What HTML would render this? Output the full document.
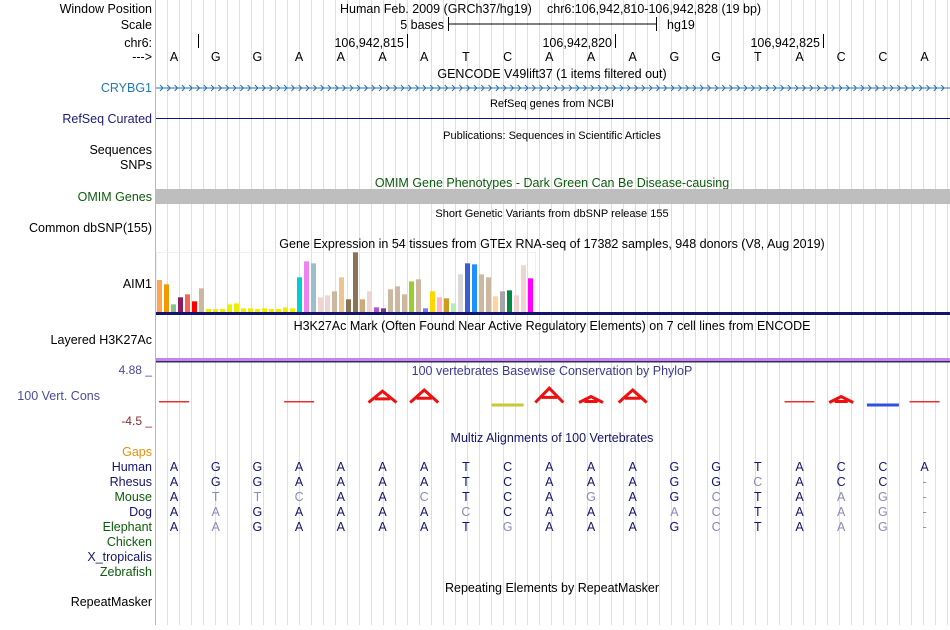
<!DOCTYPE html>
<html><head><meta charset="utf-8">
<style>
body{margin:0;background:#fff;width:950px;height:625px;overflow:hidden;font-family:"Liberation Sans",sans-serif;}
svg text{font-family:"Liberation Sans",sans-serif;}
</style></head>
<body>
<svg id="main" width="950" height="625" xmlns="http://www.w3.org/2000/svg">
<g id="grid"></g>
<line x1="155.5" y1="0" x2="155.5" y2="625" stroke="#f4a0a0"/>
<g font-size="12.5" text-anchor="end">
<text x="152" y="13">Window Position</text>
<text x="152" y="29">Scale</text>
<text x="152" y="47">chr6:</text>
<text x="152" y="61">---&gt;</text>
<text x="152" y="92" fill="#1f78b4">CRYBG1</text>
<text x="152" y="123" fill="#1a1a80">RefSeq Curated</text>
<text x="152" y="154">Sequences</text>
<text x="152" y="169">SNPs</text>
<text x="152" y="201" fill="#0b5c0b">OMIM Genes</text>
<text x="152" y="232">Common dbSNP(155)</text>
<text x="152" y="288">AIM1</text>
<text x="152" y="344">Layered H3K27Ac</text>
<text x="100" y="400" fill="#4a4aa0">100 Vert. Cons</text>
<text x="152" y="374" fill="#4a4aa0" font-size="12">4.88 _</text>
<text x="152" y="425" fill="#8b2a2a" font-size="12">-4.5 _</text>
<text x="152" y="456" fill="#e8900a">Gaps</text>
<text x="152" y="471" fill="#14146e">Human</text>
<text x="152" y="486" fill="#14146e">Rhesus</text>
<text x="152" y="501" fill="#0b5c0b">Mouse</text>
<text x="152" y="516" fill="#14146e">Dog</text>
<text x="152" y="531" fill="#0b5c0b">Elephant</text>
<text x="152" y="546" fill="#0b5c0b">Chicken</text>
<text x="152" y="561" fill="#14146e">X_tropicalis</text>
<text x="152" y="576" fill="#0b5c0b">Zebrafish</text>
<text x="152" y="606">RepeatMasker</text>
</g>
<g font-size="12.5">
<text x="340" y="13">Human Feb. 2009 (GRCh37/hg19)</text>
<text x="547" y="13">chr6:106,942,810-106,942,828 (19 bp)</text>
<text x="444" y="29" text-anchor="end">5 bases</text>
<line x1="448" y1="24" x2="656" y2="24" stroke="#000"/>
<line x1="448.5" y1="17" x2="448.5" y2="31" stroke="#000"/>
<line x1="656.5" y1="17" x2="656.5" y2="31" stroke="#000"/>
<text x="667" y="29">hg19</text>
<line x1="198.5" y1="34" x2="198.5" y2="48" stroke="#000"/>
<line x1="407.5" y1="34" x2="407.5" y2="48" stroke="#000"/>
<text x="404" y="47" text-anchor="end">106,942,815</text>
<line x1="615.5" y1="34" x2="615.5" y2="48" stroke="#000"/>
<text x="612" y="47" text-anchor="end">106,942,820</text>
<line x1="823.5" y1="34" x2="823.5" y2="48" stroke="#000"/>
<text x="820" y="47" text-anchor="end">106,942,825</text>
</g>
<g font-size="12.5" text-anchor="middle">
<text x="552" y="78">GENCODE V49lift37 (1 items filtered out)</text>
<text x="552" y="107" font-size="11">RefSeq genes from NCBI</text>
<text x="552" y="139" font-size="11">Publications: Sequences in Scientific Articles</text>
<text x="552" y="187" fill="#0b5c0b">OMIM Gene Phenotypes - Dark Green Can Be Disease-causing</text>
<text x="552" y="217" font-size="11">Short Genetic Variants from dbSNP release 155</text>
<text x="552" y="248">Gene Expression in 54 tissues from GTEx RNA-seq of 17382 samples, 948 donors (V8, Aug 2019)</text>
<text x="552" y="330">H3K27Ac Mark (Often Found Near Active Regulatory Elements) on 7 cell lines from ENCODE</text>
<text x="552" y="375" fill="#3a3a90">100 vertebrates Basewise Conservation by PhyloP</text>
<text x="552" y="442" fill="#14146e">Multiz Alignments of 100 Vertebrates</text>
<text x="552" y="592">Repeating Elements by RepeatMasker</text>
</g>
<line x1="156" y1="88" x2="950" y2="88" stroke="#2a70b0"/>
<g id="chev" stroke="#2a70b0" fill="none"></g>
<line x1="156" y1="118.5" x2="950" y2="118.5" stroke="#14147a"/>
<rect x="156" y="189" width="794" height="15" fill="#bebebe"/>
<rect x="156.5" y="252.5" width="379" height="60" fill="none" stroke="#f0f0f0"/>
<g id="gtex"></g>
<rect x="156" y="312" width="794" height="3" fill="#14146e"/>
<rect x="156" y="358" width="794" height="3" fill="#c683f0"/>
<rect x="156" y="361" width="794" height="1.5" fill="#303050"/>
<g id="cons"></g>
<g id="bases" font-size="12.5" text-anchor="middle"></g>
<g id="maf" font-size="12.5" text-anchor="middle"></g>
</svg>
<script>
const gtexValues=[96,83,23,44,53,32,71,9,9,9,23,26,11,11,9,11,9,9,14,11,104,152,146,44,50,62,104,38,179,38,62,14,11,68,77,53,92,98,11,62,44,41,26,113,146,143,113,104,47,62,65,50,140,101];
const gtexColors=["#FFA54F","#EE9A00","#8FBC8F","#8B1C62","#EE6A50","#FF0000","#CDB79E","#EEEE00","#EEEE00","#EEEE00","#EEEE00","#EEEE00","#EEEE00","#EEEE00","#EEEE00","#EEEE00","#EEEE00","#EEEE00","#EEEE00","#EEEE00","#00CED1","#EE82EE","#9AC0CD","#EED5D2","#EED5D2","#CDB79E","#EEC591","#8B7355","#8B7355","#CDAA7D","#EED5D2","#B452CD","#7A378B","#CDB79E","#CDB79E","#CDB79E","#9ACD32","#CDB79E","#7777FF","#FFD700","#FFB6C1","#CD9B1D","#B4EEB4","#D9D9D9","#3A5FCD","#1E90FF","#CDB79E","#CDB79E","#FFD39B","#A6A6A6","#008B45","#EED5D2","#EED5D2","#FF00FF"];
const refBases=["A","G","G","A","A","A","A","T","C","A","A","A","G","G","T","A","C","C","A"];
const species=["Human","Rhesus","Mouse","Dog","Elephant"];
const alignments=["AGGAAAATCAAAGGTACCA","AGGAAAATCAAAGGCACC-","ATTCAACTCAGAGCTAAG-","AAGAAAACCAAAACTAAG-","AAGAAAATGAAAGCTAAG-"];
const consPos=[0,3,5,6,8,9,10,11,15,16,17,18];
const consScore=[0.2,0.2,1.8,2.0,-0.6,2.3,0.9,2.0,0.2,0.9,-0.7,0.1];
const ns="http://www.w3.org/2000/svg";
function mk(t,a,p){const e=document.createElementNS(ns,t);for(const k in a)e.setAttribute(k,a[k]);p.appendChild(e);return e;}
const xBase=i=>174+41.7*i;
const yG=v=>312-v*60/180;
const yC=v=>402-v*6;
const grid=document.getElementById('grid');
for(let x=167;x<950;x+=12){const l=mk('line',{x1:x+0.5,y1:0,x2:x+0.5,y2:625,stroke:'#dcdcf4'},grid);}
const ch=document.getElementById('chev');
for(let x=160;x<948;x+=7.3){mk('path',{d:`M${x},85 L${x+3},88 L${x},91`},ch);}
const g=document.getElementById('gtex');
gtexValues.forEach((v,i)=>{const r=mk('rect',{x:156+i*7+1,y:yG(v),width:5,height:312-yG(v),fill:gtexColors[i]},g);

});
const c=document.getElementById('cons');
consPos.forEach((p,i)=>{const s=consScore[i];const x=xBase(p);let el;
if(s<0){el=mk('rect',{x:x-16,y:403.5,width:32,height:3,fill:s<-0.65?'#3050e0':'#c8c830'},c);}
else if(s<0.5){el=mk('rect',{x:x-15,y:401,width:30,height:1.5,fill:'#e83030'},c);}
else{const t=yC(s);const w=s>1.2?14:12;
el=mk('path',{d:`M${x-w},402.5 L${x},${t} L${x+w},402.5 M${x-w*0.55},${(t+402.5)/2+2} L${x+w*0.55},${(t+402.5)/2+2}`,stroke:'#ee1010','stroke-width':3,fill:'none'},c);}

});
const b=document.getElementById('bases');
refBases.forEach((s,i)=>{const t=mk('text',{x:xBase(i),y:61},b);t.textContent=s;

});
const m=document.getElementById('maf');
alignments.forEach((seq,r)=>{for(let i=0;i<seq.length;i++){const s=seq[i];const same=s===refBases[i];
const t=mk('text',{x:xBase(i),y:471+r*15,fill:s==='-'?'#9090b0':(same?'#14146e':'#8a8ab8')},m);t.textContent=s;

}});
</script>
</body></html>
